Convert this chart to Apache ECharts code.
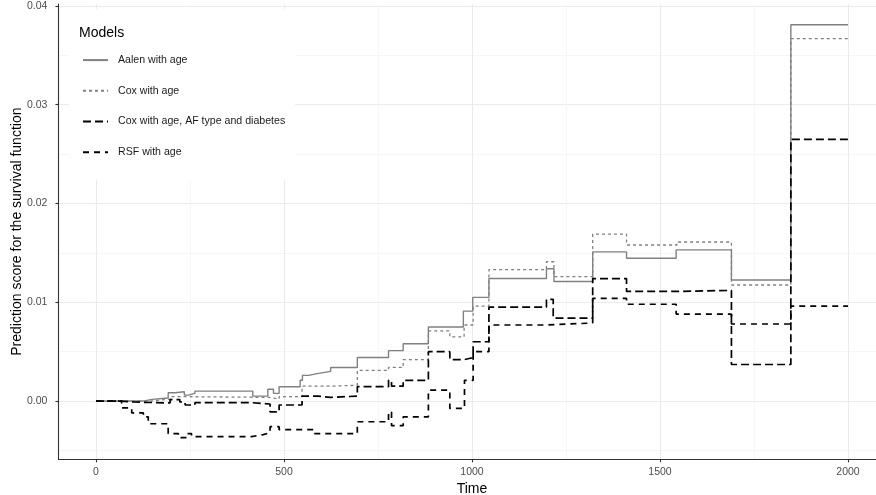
<!DOCTYPE html>
<html>
<head>
<meta charset="utf-8">
<script src="https://cdn.jsdelivr.net/npm/echarts@6/dist/echarts.min.js"></script>
<style>html,body{margin:0;padding:0;background:#fff}#c{width:876px;height:495px}</style>
</head>
<body>
<div id="c"></div>
<script>
// ---- data ----
var seriesNames = ['Aalen with age', 'Cox with age', 'Cox with age, AF type and diabetes', 'RSF with age'];

var timeAalen = [0,130,148,192,210,235,245,263,417,457,472,487,543,549,565,592,624,695,778,817,884,977,1002,1045,1198,1218,1321,1411,1543,1690,1848,2000];
var aalen     = [0,0.00017,0.0003,0.00084,0.00094,0.0006,0.00078,0.001,0.0005,0.0012,0.00077,0.00145,0.0021,0.0026,0.0028,0.003,0.0034,0.0044,0.0051,0.0058,0.0075,0.0091,0.0105,0.0124,0.0134,0.0121,0.0151,0.01445,0.0153,0.01225,0.0381,0.0381];

var timeCox = [0,145,197,237,461,487,548,624,695,778,817,884,941,979,1003,1045,1198,1218,1321,1411,1545,1690,1848,2000];
var cox     = [0,0.0002,0.00044,0.00037,0.0002,0.00044,0.0015,0.0016,0.0031,0.0034,0.0042,0.0071,0.0065,0.0077,0.0096,0.0133,0.0141,0.0126,0.0169,0.0158,0.0161,0.01175,0.0367,0.0367];

var timeCoxAF = [0,60,100,197,223,237,263,415,463,487,548,590,624,695,778,786,817,884,941,980,1003,1045,1198,1216,1321,1411,1543,1690,1848,2000];
var coxAF     = [0,-0.0001,-0.0002,0.00015,-0.0001,-0.0004,-0.00017,-0.0003,-0.0011,-0.0004,0.0005,0.00037,0.0005,0.00145,0.0021,0.0015,0.0021,0.005,0.0042,0.0044,0.006,0.0095,0.0103,0.0084,0.0124,0.0111,0.0112,0.0037,0.0265,0.0265];

var timeRSF = [0,68,95,126,139,192,219,241,254,414,445,463,487,580,695,778,786,817,884,941,980,1003,1045,1198,1321,1411,1543,1690,1848,2000];
var rsf     = [0,-0.0007,-0.0012,-0.0016,-0.0023,-0.0033,-0.0037,-0.0033,-0.0036,-0.0034,-0.0032,-0.0026,-0.0029,-0.0033,-0.0021,-0.0011,-0.0025,-0.0016,0.0011,-0.00075,0.0021,0.005,0.0077,0.0079,0.0104,0.0098,0.0088,0.0078,0.0096,0.0096];

var xTicks = [0, 500, 1000, 1500, 2000];
var xMinor = [250, 750, 1250, 1750];
var yTicks = [0, 0.01, 0.02, 0.03, 0.04];
var yMinor = [-0.005, 0.005, 0.015, 0.025, 0.035];

function pairs(t, v) { return t.map(function (x, i) { return [x, v[i]]; }); }

var FONT = "'Liberation Sans', Arial, sans-serif";
var chart = echarts.init(document.getElementById('c'), null, {renderer: 'canvas'});

var xMin = -100, xMax = 2100, yMin = -0.0059, yMax = 0.0402;

function lineSeries(name, t, v, color, width, dash) {
  return {
    name: name, type: 'line', step: 'end', symbol: 'none', showSymbol: false,
    data: pairs(t, v), xAxisIndex: 0, yAxisIndex: 0,
    lineStyle: {color: color, width: width, type: dash},
    itemStyle: {color: color},
    emphasis: {disabled: true}
  };
}

chart.setOption({
  animation: false,
  backgroundColor: '#ffffff',
  textStyle: {fontFamily: FONT},
  grid: {left: 58.4, right: -9.6, top: 4, bottom: 35.7, containLabel: false, outerBoundsMode: 'none'},
  title: {
    text: 'Models', left: 79, top: 26, padding: 0,
    textStyle: {fontFamily: FONT, fontSize: 14, fontWeight: 'normal', color: '#000'}
  },
  legend: {
    orient: 'vertical', left: 69, top: 9,
    padding: [45.5, 10, 22, 13],
    backgroundColor: '#ffffff',
    itemWidth: 25, itemHeight: 14, itemGap: 19.5,
    data: seriesNames,
    itemStyle: {opacity: 0},
    textStyle: {fontFamily: FONT, fontSize: 10.6, color: '#1a1a1a', padding: [0, 0, 0, 5]},
    selectedMode: false
  },
  xAxis: [{
    type: 'value', min: xMin, max: xMax, position: 'bottom',
    name: 'Time', nameLocation: 'middle', nameGap: 20,
    nameTextStyle: {fontFamily: FONT, fontSize: 14, color: '#000'},
    axisLine: {show: true, onZero: false, lineStyle: {color: '#333333', width: 1.1}},
    axisTick: {show: true, length: 3, customValues: xTicks, lineStyle: {color: '#333333', width: 1.1}},
    axisLabel: {customValues: xTicks, margin: 7, fontSize: 10.5, color: '#4d4d4d', fontFamily: FONT,
      formatter: function (v) { return String(v); }},
    splitLine: {show: true, lineStyle: {color: '#ebebeb', width: 1.1}}
  }, {
    type: 'value', min: xMin, max: xMax, position: 'top',
    axisLine: {show: false}, axisLabel: {show: false},
    axisTick: {show: false, customValues: xMinor},
    splitLine: {show: true, lineStyle: {color: '#f4f4f4', width: 0.8}}
  }],
  yAxis: [{
    type: 'value', min: yMin, max: yMax, position: 'left',
    name: 'Prediction score for the survival function', nameLocation: 'middle', nameGap: 34,
    nameMoveOverlap: false,
    nameTextStyle: {fontFamily: FONT, fontSize: 14, color: '#000'},
    axisLine: {show: true, onZero: false, lineStyle: {color: '#333333', width: 1.1}},
    axisTick: {show: true, length: 3, customValues: yTicks, lineStyle: {color: '#333333', width: 1.1}},
    axisLabel: {customValues: yTicks, margin: 11, fontSize: 10.5, color: '#4d4d4d', fontFamily: FONT,
      formatter: function (v) { return v.toFixed(2); }},
    splitLine: {show: true, lineStyle: {color: '#ebebeb', width: 1.1}}
  }, {
    type: 'value', min: yMin, max: yMax, position: 'right',
    axisLine: {show: false}, axisLabel: {show: false},
    axisTick: {show: false, customValues: yMinor},
    splitLine: {show: true, lineStyle: {color: '#f4f4f4', width: 0.8}}
  }],
  series: [
    lineSeries(seriesNames[0], timeAalen, aalen, '#808080', 1.4, 'solid'),
    lineSeries(seriesNames[1], timeCox, cox, '#808080', 1.3, [3, 3]),
    lineSeries(seriesNames[2], timeCoxAF, coxAF, '#000000', 1.7, [8, 4]),
    lineSeries(seriesNames[3], timeRSF, rsf, '#000000', 1.7, [6, 5])
  ]
});
</script>
</body>
</html>
